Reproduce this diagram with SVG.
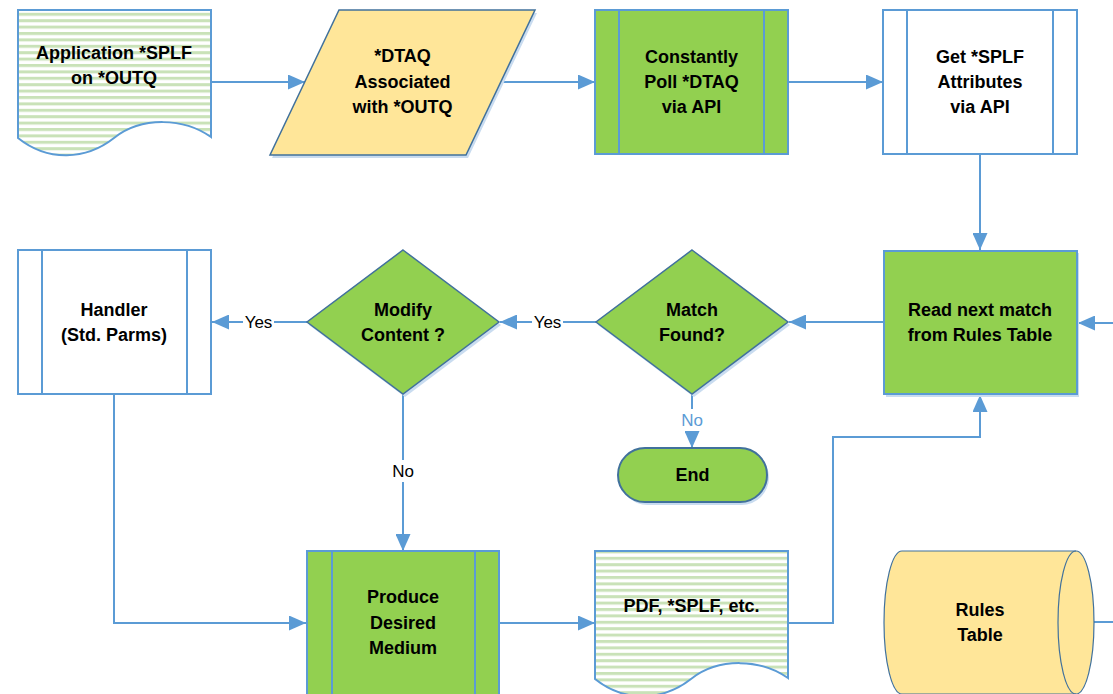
<svg xmlns="http://www.w3.org/2000/svg" width="1113" height="694" viewBox="0 0 1113 694">
<style>
.lbl{font-family:"Liberation Sans",Arial,sans-serif;font-size:18px;font-weight:bold;fill:#000;text-anchor:middle}
.el{font-family:"Liberation Sans",Arial,sans-serif;font-size:17px;fill:#000;text-anchor:middle}
.box{stroke:#5b9bd5;stroke-width:2}
.dk{stroke:#41719c;stroke-width:1.5}
.green{fill:#92d050}
.white{fill:#fff}
.yellow{fill:#ffe699}
.shadow{fill:#c9dcf0;stroke:none}
.conn{fill:none;stroke:#5b9bd5;stroke-width:2}
.bg{fill:#fff}
</style>
<defs>
<pattern id="stripes" patternUnits="userSpaceOnUse" width="10" height="6.4">
<rect width="10" height="6.4" fill="#fff"/>
<rect width="10" height="3" fill="#c9e2b8"/>
</pattern>
<marker id="arr" viewBox="0 0 17 15" refX="17" refY="7.5" markerWidth="17" markerHeight="15" markerUnits="userSpaceOnUse" orient="auto">
<path d="M0,0 L17,7.5 L0,15 Z" fill="#5b9bd5"/>
</marker>
</defs>
<rect width="1113" height="694" fill="#fff"/>

<g id="connectors">
<path class="conn" d="M211,82 H305" marker-end="url(#arr)"/>
<path class="conn" d="M501,82 H595" marker-end="url(#arr)"/>
<path class="conn" d="M788,82 H883" marker-end="url(#arr)"/>
<path class="conn" d="M980,154 V250" marker-end="url(#arr)"/>
<path class="conn" d="M884,322 H789" marker-end="url(#arr)"/>
<path class="conn" d="M596,322 H500" marker-end="url(#arr)"/>
<path class="conn" d="M307,322 H212" marker-end="url(#arr)"/>
<path class="conn" d="M403,394 V551" marker-end="url(#arr)"/>
<path class="conn" d="M692,394 V448" marker-end="url(#arr)"/>
<path class="conn" d="M114,394 V623 H306" marker-end="url(#arr)"/>
<path class="conn" d="M499,623 H595" marker-end="url(#arr)"/>
<path class="conn" d="M788,623 H833 V437 H980 V395" marker-end="url(#arr)"/>
<path class="conn" d="M1113,323 H1078" marker-end="url(#arr)"/>
<path class="conn" d="M1094,622 H1113"/>
<rect class="bg" x="243" y="311" width="31" height="22"/>
<text class="el" x="258.5" y="328">Yes</text>
<rect class="bg" x="532" y="311" width="31" height="22"/>
<text class="el" x="547.5" y="328">Yes</text>
<rect class="bg" x="390" y="460" width="26" height="22"/>
<text class="el" x="403" y="477">No</text>
<rect class="bg" x="679" y="409" width="26" height="22"/>
<text class="el" x="692" y="426" style="fill:#5b9bd5">No</text>
</g>

<g id="n1">
<path class="box" fill="url(#stripes)" d="M18,10 H211 V137 C184,118 142,116 114,138 C86,160 48,162 18,138 Z"/>
<text class="lbl" x="114" y="59">Application *SPLF</text>
<text class="lbl" x="114" y="84">on *OUTQ</text>
</g>

<g id="n2">
<path class="shadow" d="M341,13 H537 L468,158 H272 Z"/>
<path class="yellow dk" d="M339,10 H535 L466,155 H270 Z"/>
<text class="lbl" x="402.5" y="62">*DTAQ</text>
<text class="lbl" x="402.5" y="88">Associated</text>
<text class="lbl" x="402.5" y="113">with *OUTQ</text>
</g>

<g id="n3">
<rect class="green box" x="595" y="10" width="193" height="144"/>
<line class="box" x1="619" y1="10" x2="619" y2="154"/>
<line class="box" x1="764" y1="10" x2="764" y2="154"/>
<text class="lbl" x="691.5" y="63">Constantly</text>
<text class="lbl" x="691.5" y="88">Poll *DTAQ</text>
<text class="lbl" x="691.5" y="113">via API</text>
</g>

<g id="n4">
<rect class="white box" x="883" y="10" width="194" height="144"/>
<line class="box" x1="907" y1="10" x2="907" y2="154"/>
<line class="box" x1="1053" y1="10" x2="1053" y2="154"/>
<text class="lbl" x="980" y="63">Get *SPLF</text>
<text class="lbl" x="980" y="88">Attributes</text>
<text class="lbl" x="980" y="113">via API</text>
</g>

<g id="n5">
<rect class="shadow" x="886" y="253" width="193" height="144"/>
<rect class="green box" x="884" y="251" width="193" height="143"/>
<text class="lbl" x="980" y="316">Read next match</text>
<text class="lbl" x="980" y="341">from Rules Table</text>
</g>

<g id="n6">
<path class="shadow" d="M694,253 L790,325 L694,397 L598,325 Z"/>
<path class="green dk" d="M692,250 L788,322 L692,394 L596,322 Z"/>
<text class="lbl" x="692" y="316">Match</text>
<text class="lbl" x="692" y="341">Found?</text>
</g>

<g id="n7">
<path class="shadow" d="M405,253 L501,325 L405,397 L309,325 Z"/>
<path class="green dk" d="M403,250 L499,322 L403,394 L307,322 Z"/>
<text class="lbl" x="403" y="316">Modify</text>
<text class="lbl" x="403" y="341">Content ?</text>
</g>

<g id="n8">
<rect class="white box" x="18" y="250" width="193" height="144"/>
<line class="box" x1="42" y1="250" x2="42" y2="394"/>
<line class="box" x1="187" y1="250" x2="187" y2="394"/>
<text class="lbl" x="114" y="316">Handler</text>
<text class="lbl" x="114" y="341">(Std. Parms)</text>
</g>

<g id="n9">
<rect class="shadow" x="620" y="450" width="149" height="55" rx="27.5"/>
<rect class="green" stroke="#41719c" stroke-width="2" x="618" y="448" width="149" height="54" rx="27"/>
<text class="lbl" x="692.5" y="481">End</text>
</g>

<g id="n10">
<rect class="green box" x="307" y="551" width="192" height="150"/>
<line class="box" x1="332" y1="551" x2="332" y2="700"/>
<line class="box" x1="475" y1="551" x2="475" y2="700"/>
<text class="lbl" x="403" y="603">Produce</text>
<text class="lbl" x="403" y="629">Desired</text>
<text class="lbl" x="403" y="654">Medium</text>
</g>

<g id="n11">
<path class="box" fill="url(#stripes)" d="M595,551 H788 V678 C761,659 719,657 691,679 C663,701 625,703 595,679 Z"/>
<text class="lbl" x="691.5" y="612">PDF, *SPLF, etc.</text>
</g>

<g id="n12">
<path class="yellow" stroke="#41719c" stroke-width="1.2" d="M902,551 H1076 A18,71.5 0 0 1 1076,694 H902 A18,71.5 0 0 1 902,551 Z"/>
<path fill="none" stroke="#41719c" stroke-width="1.2" d="M1076,551 A18,71.5 0 0 0 1076,694"/>
<text class="lbl" x="980" y="616">Rules</text>
<text class="lbl" x="980" y="641">Table</text>
</g>
</svg>
